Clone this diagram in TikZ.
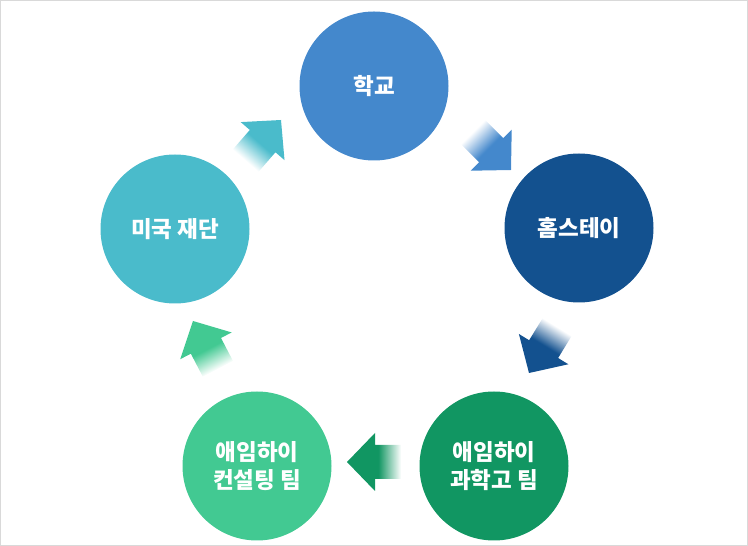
\documentclass[tikz,border=0pt]{standalone}
\usepackage{fontspec}
\newfontfamily\kr{Noto Sans CJK KR}
\definecolor{cSchool}{RGB}{68,136,204}
\definecolor{cHome}{RGB}{19,81,143}
\definecolor{cSci}{RGB}{17,150,98}
\definecolor{cCons}{RGB}{66,201,146}
\definecolor{cFound}{RGB}{74,187,203}
\definecolor{cFrame}{RGB}{217,217,217}
\pgfdeclarehorizontalshading{fadeSchool}{100bp}{color(0bp)=(white); color(25bp)=(white); color(46bp)=(cSchool); color(100bp)=(cSchool)}
\pgfdeclarehorizontalshading{fadeHome}{100bp}{color(0bp)=(white); color(25bp)=(white); color(46bp)=(cHome); color(100bp)=(cHome)}
\pgfdeclarehorizontalshading{fadeSci}{100bp}{color(0bp)=(white); color(25bp)=(white); color(46bp)=(cSci); color(100bp)=(cSci)}
\pgfdeclarehorizontalshading{fadeCons}{100bp}{color(0bp)=(white); color(25bp)=(white); color(46bp)=(cCons); color(100bp)=(cCons)}
\pgfdeclarehorizontalshading{fadeFound}{100bp}{color(0bp)=(white); color(25bp)=(white); color(46bp)=(cFound); color(100bp)=(cFound)}
\newcommand\circfont{\kr\bfseries\fontsize{22.5}{28}\selectfont\setlength{\lineskiplimit}{-30pt}}
\tikzset{
  circ/.style={circle, minimum size=149pt, inner sep=0pt, text=white,
    font={\circfont}, align=center},
}
\newcommand\myblockarrow[3]{%
  \begin{scope}[transform canvas={shift={#1}, rotate=#2}]
    \shade[shading=#3]
      (0,0) -- (-28,29) -- (-28,17) -- (-54,17) -- (-54,-17)
      -- (-28,-17) -- (-28,-29) -- cycle;
  \end{scope}}
\begin{document}
\begin{tikzpicture}[x=1pt,y=1pt]
\useasboundingbox (0,0) rectangle (748,546);
\draw[cFrame, line width=1pt] (0.5,0.5) rectangle (747.5,545.5);

\node[circ, fill=cSchool] (school) at (374,460) {학교};
\node[circ, fill=cHome] (home) at (579,318) {홈스테이};
\node[circ, fill=cSci] (sci) at (494,80) {애임하이\\과학고 팀};
\node[circ, fill=cCons] (cons) at (257,80) {애임하이\\컨설팅 팀};
\node[circ, fill=cFound] (found) at (175,317) {미국 재단};

\coordinate (t1) at (511,376);
\coordinate (t2) at (529,173);
\coordinate (t3) at (347,84);
\coordinate (t4) at (193,225);
\coordinate (t5) at (281,426);

\myblockarrow{(t1)}{-45}{fadeSchool}
\myblockarrow{(t2)}{-121.5}{fadeHome}
\myblockarrow{(t3)}{180}{fadeSci}
\myblockarrow{(t4)}{117.5}{fadeCons}
\myblockarrow{(t5)}{49}{fadeFound}
\end{tikzpicture}
\end{document}
